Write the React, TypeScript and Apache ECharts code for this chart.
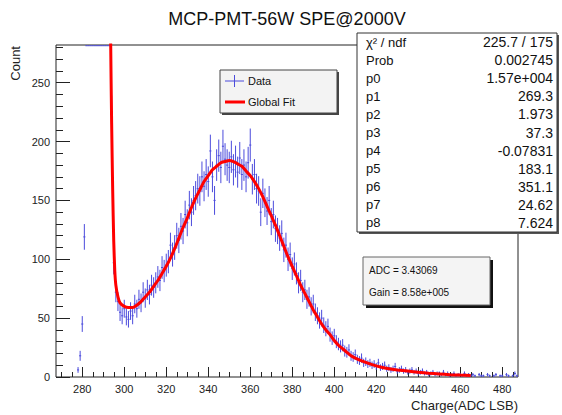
import React, { useEffect, useRef } from "react";
import * as echarts from "echarts";

// ---- data ----
const TITLE = "MCP-PMT-56W SPE@2000V";
const X_TITLE = "Charge(ADC LSB)";
const Y_TITLE = "Count";
const X_MIN = 267.5;
const X_MAX = 487.5;
const Y_MAX = 282;
const xMajorTicks = [280, 300, 320, 340, 360, 380, 400, 420, 440, 460, 480];
const xMinorTicks = [270, 275, 285, 290, 295, 305, 310, 315, 325, 330, 335, 345, 350, 355, 365, 370, 375, 385, 390, 395, 405, 410, 415, 425, 430, 435, 445, 450, 455, 465, 470, 475, 485];
const yMajorTicks = [0, 50, 100, 150, 200, 250];
const yMinorTicks = [10, 20, 30, 40, 60, 70, 80, 90, 110, 120, 130, 140, 160, 170, 180, 190, 210, 220, 230, 240, 260, 270, 280];

// histogram bins (1 LSB wide), first bin centre = BIN_START
const BIN_START = 278;
const counts = [
  6, 18, 45, 119, 900, 3500, 9000, 14000, 15500, 13000, 9000, 5000, 2400, 1100, 520, 330, 224, 97,
  72, 64, 55, 52, 58, 51, 49, 56, 52, 62, 58, 66, 63, 72, 67, 74, 70, 78, 76, 80, 85, 82,
  93, 90, 95, 98, 112, 104, 110, 120, 116, 128, 124, 138, 131, 146, 140, 150, 154, 160, 158, 170,
  162, 172, 166, 192, 170, 150, 180, 188, 178, 196, 185, 180, 178, 187, 176, 183, 174, 186, 172, 180,
  170, 182, 197, 168, 172, 160, 158, 140, 156, 148, 141, 150, 132, 138, 126, 124, 118, 122, 108, 112,
  100, 104, 92, 96, 88, 80, 82, 72, 74, 66, 68, 60, 62, 55, 52, 48, 50, 44, 41, 43,
  36, 33, 35, 30, 28, 26, 27, 22, 21, 23, 18, 17, 19, 15, 14, 16, 12, 13, 11, 12,
  10, 11, 9, 12, 8, 9, 10, 7, 8, 6, 7, 9, 5, 6, 7, 5, 6, 4, 5, 6,
  4, 5, 3, 4, 5, 3, 4, 2, 3, 4, 2, 3, 3, 2, 4, 2, 3, 1, 2, 3,
  1, 2, 2, 1, 3, 1, 2, 1, 2, 1, 0, 2, 1, 1, 0, 2, 1, 0, 1, 2,
  0, 1, 1, 0, 2, 1, 0, 1, 3, 1,
];

// global fit curve
const fitX = [293, 293.5, 294, 294.5, 295, 295.5, 296, 297, 298, 300, 302, 304, 306, 308, 310, 312, 314, 316, 318, 320, 322, 324, 326, 328, 330, 332, 334, 336, 338, 340, 342, 344, 346, 348, 350, 352, 354, 356, 358, 360, 362, 364, 366, 368, 370, 372, 374, 376, 378, 380, 382, 384, 386, 388, 390, 392, 394, 396, 398, 400, 402, 404, 406, 408, 410, 414, 418, 422, 426, 430, 435, 440, 445, 450, 455, 460, 465];
const fitY = [420, 290, 215, 158, 115, 90, 78, 68, 63, 60, 59, 59, 61, 64, 68, 72, 77, 82, 88, 94, 101, 109, 118, 127, 135, 144, 152, 159, 166, 171, 176, 179, 182, 183, 184, 183, 181, 179, 175, 171, 166, 160, 153, 145, 137, 129, 120, 111, 102, 94, 86, 78, 71, 64, 57, 51, 45, 40, 36, 31, 27, 24, 21, 18, 16, 13, 10.5, 8.5, 7, 6, 5, 4, 3.2, 2.6, 2, 1.6, 1.3];

const statsLabels = ["χ² / ndf", "Prob", "p0", "p1", "p2", "p3", "p4", "p5", "p6", "p7", "p8"];
const statsValues = ["225.7 / 175", "0.002745", "1.57e+004", "269.3", "1.973", "37.3", "-0.07831", "183.1", "351.1", "24.62", "7.624"];
const legendLabels = ["Data", "Global Fit"];
const infoLines = ["ADC = 3.43069", "Gain = 8.58e+005"];

const FONT = '"Liberation Sans", Arial, Helvetica, sans-serif';
const BLUE = "#4b4bdc";
const RED = "#ff0000";
const INK = "#222";

export default function App() {
  const ref = useRef<HTMLDivElement>(null);

  useEffect(() => {
    if (!ref.current) return;
    const chart = echarts.init(ref.current, undefined, { renderer: "svg" });

    const histData: number[][] = [];
    counts.forEach((c, i) => {
      if (c > 0) histData.push([BIN_START + i, c]);
    });
    const fitData = fitX.map((x, i) => [x, fitY[i]]);

    const statsTop = 33;
    const statsBottom = 232;
    const rowH = (statsBottom - statsTop) / statsLabels.length;
    const TOP_DRAW = Y_MAX - 0.6;

    const graphics: any[] = [
      {
        type: "text",
        x: 287,
        y: 19,
        style: { text: TITLE, font: `18px ${FONT}`, fill: "#111", align: "center", verticalAlign: "middle" },
        z: 100,
      },
      {
        type: "text",
        x: 518,
        y: 405,
        style: { text: X_TITLE, font: `13px ${FONT}`, fill: INK, align: "right", verticalAlign: "middle" },
        z: 100,
      },
      {
        type: "text",
        x: 15,
        y: 46,
        rotation: Math.PI / 2,
        style: { text: Y_TITLE, font: `13px ${FONT}`, fill: INK, align: "right", verticalAlign: "middle" },
        z: 100,
      },
      // stats box
      { type: "rect", shape: { x: 359, y: statsTop + 2, width: 200, height: statsBottom - statsTop }, style: { fill: "#555" }, z: 100 },
      { type: "rect", shape: { x: 357, y: statsTop, width: 200, height: statsBottom - statsTop }, style: { fill: "#fff", stroke: "#333", lineWidth: 1 }, z: 101 },
      ...statsLabels.map((t, i) => ({
        type: "text",
        x: 366,
        y: statsTop + rowH * (i + 0.5),
        style: { text: t, font: `13px ${FONT}`, fill: "#111", align: "left", verticalAlign: "middle" },
        z: 102,
      })),
      ...statsValues.map((t, i) => ({
        type: "text",
        x: 553,
        y: statsTop + rowH * (i + 0.5),
        style: { text: t, font: `14px ${FONT}`, fill: "#111", align: "right", verticalAlign: "middle" },
        z: 102,
      })),
      // legend box
      { type: "rect", shape: { x: 222, y: 72, width: 117, height: 43 }, style: { fill: "#444" }, z: 100 },
      { type: "rect", shape: { x: 220, y: 70, width: 117, height: 43 }, style: { fill: "#f3f3f3", stroke: "#444", lineWidth: 1 }, z: 101 },
      { type: "line", shape: { x1: 225, y1: 81, x2: 244, y2: 81 }, style: { stroke: BLUE, lineWidth: 1 }, z: 102 },
      { type: "line", shape: { x1: 234.5, y1: 75, x2: 234.5, y2: 87 }, style: { stroke: BLUE, lineWidth: 1 }, z: 102 },
      { type: "line", shape: { x1: 225, y1: 102, x2: 245, y2: 102 }, style: { stroke: RED, lineWidth: 3 }, z: 102 },
      {
        type: "text",
        x: 248,
        y: 81,
        style: { text: legendLabels[0], font: `11px ${FONT}`, fill: "#111", align: "left", verticalAlign: "middle" },
        z: 102,
      },
      {
        type: "text",
        x: 248,
        y: 102,
        style: { text: legendLabels[1], font: `11px ${FONT}`, fill: "#111", align: "left", verticalAlign: "middle" },
        z: 102,
      },
      // info box
      { type: "rect", shape: { x: 366, y: 260, width: 127, height: 48 }, style: { fill: "#111" }, z: 100 },
      { type: "rect", shape: { x: 363, y: 257, width: 127, height: 48 }, style: { fill: "#f4f4f4", stroke: "#666", lineWidth: 1 }, z: 101 },
      ...infoLines.map((t, i) => ({
        type: "text",
        x: 369,
        y: 270 + i * 22,
        style: { text: t, font: `10px ${FONT}`, fill: "#111", align: "left", verticalAlign: "middle" },
        z: 102,
      })),
    ];

    const axisCommon = {
      type: "value" as const,
      min: X_MIN,
      max: X_MAX,
      position: "bottom" as const,
      axisLine: { show: false },
      splitLine: { show: false },
    };

    chart.setOption({
      animation: false,
      backgroundColor: "#fff",
      grid: {
        left: 56,
        top: 45,
        width: 462,
        height: 332,
        show: true,
        borderColor: INK,
        borderWidth: 1,
        backgroundColor: "transparent",
      },
      xAxis: [
        {
          ...axisCommon,
          axisTick: { show: true, inside: true, length: 10, customValues: xMajorTicks, lineStyle: { color: INK } },
          axisLabel: { show: true, customValues: xMajorTicks, fontSize: 11, fontFamily: FONT, color: INK, margin: 6 },
        },
        {
          ...axisCommon,
          axisTick: { show: true, inside: true, length: 5, customValues: xMinorTicks, lineStyle: { color: INK } },
          axisLabel: { show: false },
        },
      ],
      yAxis: [
        {
          type: "value",
          min: 0,
          max: Y_MAX,
          position: "left",
          axisLine: { show: false },
          splitLine: { show: false },
          axisTick: { show: true, inside: true, length: 14, customValues: yMajorTicks, lineStyle: { color: INK } },
          axisLabel: { show: true, customValues: yMajorTicks, fontSize: 11, fontFamily: FONT, color: INK, margin: 6 },
        },
        {
          type: "value",
          min: 0,
          max: Y_MAX,
          position: "left",
          axisLine: { show: false },
          splitLine: { show: false },
          axisTick: { show: true, inside: true, length: 7, customValues: yMinorTicks, lineStyle: { color: INK } },
          axisLabel: { show: false },
        },
      ],
      series: [
        {
          type: "custom",
          xAxisIndex: 0,
          yAxisIndex: 0,
          clip: true,
          encode: { x: 0, y: 1 },
          data: histData,
          renderItem: (params: any, api: any) => {
            const x = api.value(0);
            const y = api.value(1);
            const err = Math.sqrt(y);
            const yc = Math.min(y, TOP_DRAW);
            const left = api.coord([x - 0.5, yc]);
            const right = api.coord([x + 0.5, yc]);
            const lo = api.coord([x, Math.max(0, Math.min(y - err, TOP_DRAW))]);
            const hi = api.coord([x, Math.min(y + err, TOP_DRAW)]);
            const style = { stroke: BLUE, lineWidth: 1 };
            return {
              type: "group",
              children: [
                { type: "line", shape: { x1: left[0], y1: left[1], x2: right[0], y2: right[1] }, style },
                { type: "line", shape: { x1: lo[0], y1: lo[1], x2: hi[0], y2: hi[1] }, style },
              ],
            };
          },
          z: 2,
        },
        {
          type: "line",
          xAxisIndex: 0,
          yAxisIndex: 0,
          data: fitData,
          showSymbol: false,
          smooth: 0.2,
          clip: true,
          lineStyle: { color: RED, width: 3 },
          z: 3,
        },
      ],
      graphic: graphics,
    });

    return () => chart.dispose();
  }, []);

  return (
    <div
      ref={ref}
      style={{ position: "fixed", left: 0, top: 0, width: 562, height: 415, background: "#fff" }}
    />
  );
}
